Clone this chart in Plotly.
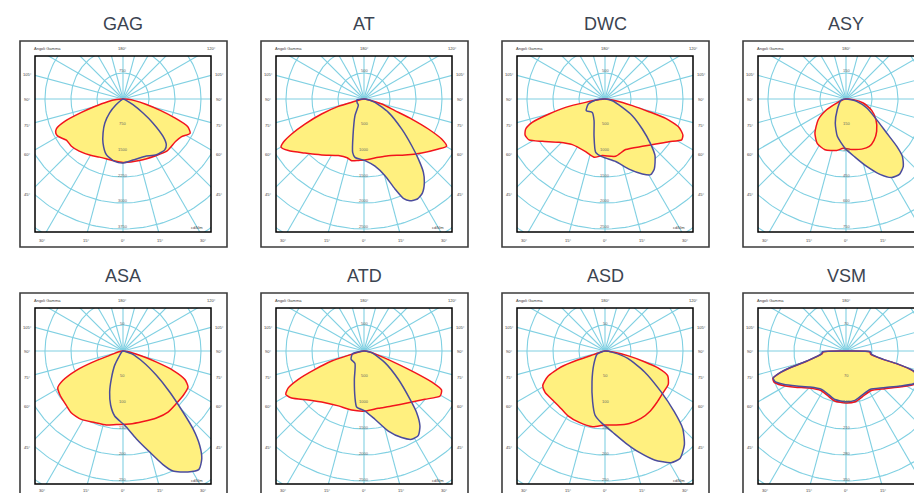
import numpy as np
import plotly.graph_objects as go

W, H = 922, 493          # reference window size
OFF = 8                  # page body margin of the rendered html
W_FIG, H_FIG = W - OFF, H - OFF

panel_names = ["GAG", "AT", "DWC", "ASY", "ASA", "ATD", "ASD", "VSM"]
panel_steps = [750, 500, 500, 150, 50, 500, 50, 70]

# ---- photometric data: gamma angle (deg, 0 = down, + = right) and cd/klm ----
gag_red_gamma = [-90, -85, -80, -75, -72, -69, -66, -63, -60, -54, -47.5, -40, -30, -22, -9, 0, 15, 30, 40, 51, 57, 63, 67, 70, 73, 77, 82, 86, 90]
gag_red_cd = [0, 188, 450, 863, 1275, 1800, 2100, 2175, 2160, 2018, 2018, 1965, 1875, 1808, 1800, 1830, 1838, 1890, 1965, 1950, 2003, 2175, 2025, 1575, 1125, 675, 338, 150, 0]
gag_blue_gamma = [-90, -65, -55, -50, -44, -37, -30.5, -24.4, -16.7, -7.6, 0, 9.3, 20.7, 30.9, 39.4, 43.5, 47, 51.3, 55, 60.5, 66, 75, 90]
gag_blue_cd = [0, 15, 90, 263, 555, 870, 1133, 1395, 1673, 1815, 1845, 1785, 1770, 1875, 1898, 1815, 1575, 1103, 705, 330, 113, 15, 0]

at_red_gamma = [-90, -80, -75.5, -74, -70.5, -67, -64.2, -61.8, -59.8, -55.7, -47.5, -37.1, -24.4, -16, -11.3, -5, 0.9, 13.8, 23.2, 36.2, 46.9, 56.1, 60.2, 62.7, 65, 67.2, 69.4, 74.2, 81, 90]
at_red_cd = [0, 60, 180, 515, 865, 1235, 1545, 1760, 1845, 1760, 1540, 1350, 1195, 1175, 1210, 1185, 1175, 1155, 1185, 1335, 1520, 1725, 1830, 1680, 1365, 995, 635, 355, 85, 0]
at_blue_gamma = [-90, -82, -60, -43, -28.4, -16.7, -12, -8.8, 0.9, 9.3, 15.3, 19, 21.6, 24.3, 28.1, 31.8, 35.9, 39, 42.2, 45.6, 51.5, 61.3, 73, 85, 90]
at_blue_cd = [0, 140, 150, 160, 365, 735, 1050, 1135, 1185, 1310, 1530, 1830, 2055, 2145, 2180, 2130, 1980, 1815, 1555, 1285, 925, 535, 220, 40, 0]

dwc_red_gamma = [-90, -84, -80.2, -78, -75, -72.2, -69.3, -65.8, -61.7, -56, -46.7, -35.6, -20.2, -10.7, -2.7, 10.5, 22.2, 38.3, 48.4, 56.3, 61.9, 65.2, 69, 72.3, 73.9, 76.3, 81, 90]
dwc_red_cd = [0, 100, 380, 775, 1115, 1470, 1630, 1685, 1660, 1455, 1215, 1080, 1080, 1140, 1090, 1120, 1050, 1160, 1305, 1480, 1670, 1650, 1525, 1225, 880, 540, 210, 0]
dwc_blue_gamma = [-90, -84, -73.3, -58, -43.5, -26.9, -16.7, -9.9, -2.6, 9.7, 18.9, 26.5, 31.1, 35.2, 41.4, 45.4, 51.2, 58.6, 64.3, 77, 90]
dwc_blue_cd = [0, 180, 335, 425, 355, 465, 735, 1040, 1115, 1220, 1425, 1610, 1700, 1645, 1455, 1235, 920, 615, 370, 145, 0]

asy_red_gamma = [-90, -80, -66.8, -61.1, -53.2, -42.4, -32.7, -22.5, -10.3, -3.1, 6.4, 17.4, 26.2, 34.1, 43.5, 55.4, 66.2, 77, 85, 90]
asy_red_cd = [0, 15, 59, 128, 200, 266, 306, 317, 302, 284, 293, 303, 305, 288, 257, 210, 162, 102, 42, 0]
asy_blue_gamma = [-90, -75, -39.1, -24, -13.1, -1.2, 8.8, 17.1, 24.3, 30.2, 35.3, 40.4, 44.5, 47, 50.1, 56, 66.5, 77.7, 90]
asy_blue_cd = [0, 30, 80, 152, 221, 284, 339, 407, 477, 524, 533, 510, 464, 401, 306, 213, 131, 63, 0]

asa_red_gamma = [-90, -80, -72, -69.9, -67.5, -63.9, -60.6, -54.7, -46.2, -40, -31.4, -21.6, -12.7, -5.2, 5.2, 15.9, 26.5, 36.4, 45.4, 53.5, 61, 65.3, 68.9, 71.7, 75.4, 82, 90]
asa_red_cd = [0, 8, 27, 62, 97, 129, 144, 148, 151, 155, 154, 148, 146, 142, 141, 141, 144, 146, 144, 144, 143, 131, 103, 68, 33, 8, 0]
asa_blue_gamma = [-90, -60, -37.6, -30.2, -22.9, -18, -12.8, -7.3, 1.3, 8.6, 14.8, 19.4, 22.6, 28.2, 32.7, 36.2, 39.1, 42, 44.5, 48.7, 53.9, 61.2, 72.3, 90]
asa_blue_cd = [0, 2.5, 10.5, 32, 57.5, 83, 107, 126, 143, 170.5, 201, 231.5, 250, 264, 270.5, 256.5, 234, 201, 164.5, 119.5, 79.5, 44, 17, 0]

atd_red_gamma = [-90, -80, -74.5, -72.8, -69.5, -66.7, -64.1, -61, -57, -48.6, -37, -25, -11.8, 1, 14, 26.7, 40.6, 51.6, 59.4, 63.3, 65.4, 67, 68.8, 72.2, 80.5, 90]
atd_red_cd = [0, 60, 315, 650, 1005, 1375, 1615, 1720, 1660, 1425, 1245, 1165, 1160, 1155, 1135, 1185, 1310, 1495, 1700, 1670, 1430, 1065, 710, 355, 115, 0]
atd_blue_gamma = [-90, -75.6, -57.3, -36.1, -18.8, -10.9, -7.5, 1, 9.1, 16.9, 23.5, 28.4, 32.8, 36.7, 40.5, 43.6, 50.5, 61, 77.7, 90]
atd_blue_cd = [0, 230, 295, 295, 575, 915, 1085, 1155, 1330, 1610, 1815, 1930, 1930, 1800, 1560, 1285, 855, 460, 150, 0]

asd_red_gamma = [-90, -80, -72.6, -71.8, -70, -65.9, -60.9, -55.4, -46.9, -39.4, -30, -19.8, -9.3, -0.5, 8.5, 18.6, 28.1, 37.1, 45.4, 53.7, 62.2, 68.5, 72.4, 74.8, 78.4, 81.9, 90]
asd_red_cd = [0, 5, 21.5, 55.5, 90, 121, 137, 140, 138, 138.5, 143.5, 146, 147.5, 142.5, 144, 147, 147, 144.5, 140.5, 137.5, 137.5, 129.5, 106, 78.5, 44.5, 18, 0]
asd_blue_gamma = [-90, -67.4, -39, -23, -13.7, -8.9, -3.2, 5.4, 12.8, 18.7, 24.4, 30.6, 34.9, 40.2, 45.1, 48.8, 54, 62.3, 72.1, 80, 90]
asd_blue_cd = [0, 16.5, 34.5, 64, 100.5, 124.5, 137.5, 157, 182, 206, 230, 249.5, 252, 236.5, 211, 177, 133, 85.5, 46, 15, 0]

vsm_gamma = [-90, -88, -83.7, -75.7, -73.4, -71.8, -69.6, -66.6, -62, -54.6, -45, -32.4, -22.2, -12.8, 0, 10.3, 19.5, 32, 45.5, 57, 64.1, 70, 73.5, 76, 77.4, 82.6, 88, 90]
vsm_red_cd = [0, 62, 64, 106, 155, 186, 210, 211, 196, 168, 141, 126, 130, 138, 140, 139, 131, 126, 145, 177, 205, 212, 187, 138, 100, 67, 64, 0]
vsm_blue_cd = [0, 64, 66, 109, 158, 187, 209, 208, 191, 163, 137, 122.5, 126, 134, 136.5, 135, 127, 122, 141, 173, 202, 210, 189, 141, 103, 69, 66.5, 0]

curves = [
    (gag_red_gamma, gag_red_cd, gag_blue_gamma, gag_blue_cd),
    (at_red_gamma, at_red_cd, at_blue_gamma, at_blue_cd),
    (dwc_red_gamma, dwc_red_cd, dwc_blue_gamma, dwc_blue_cd),
    (asy_red_gamma, asy_red_cd, asy_blue_gamma, asy_blue_cd),
    (asa_red_gamma, asa_red_cd, asa_blue_gamma, asa_blue_cd),
    (atd_red_gamma, atd_red_cd, atd_blue_gamma, atd_blue_cd),
    (asd_red_gamma, asd_red_cd, asd_blue_gamma, asd_blue_cd),
    (vsm_gamma, vsm_red_cd, vsm_gamma, vsm_blue_cd),
]

top_labels = ["Angoli Gamma", "180°", "120°"]
side_labels = ["105°", "90°", "75°", "60°", "45°"]
bottom_labels = ["30°", "15°", "0°", "15°", "30°"]
unit_label = "cd/klm"

# ---- styling / layout constants (pixel positions in the reference window) ----
GRID = "#80d0e2"
FILL = "#fff07f"
RED = "#f2141c"
BLUE = "#4b4c9c"
TXT = "#3a3a3a"
FONT = "Liberation Sans, Arial, sans-serif"
PX_PER_STEP = 26.0
BOX = 176
CX, CY = 88, 43
COL_X = [35, 276, 517, 758]
ROW_Y = [56, 308]


def to_xy(gamma, cd):
    g = np.radians(np.asarray(gamma, dtype=float))
    v = np.asarray(cd, dtype=float)
    return v * np.sin(g), -v * np.cos(g)


def px(x, y):
    return (x - OFF) / W_FIG, 1 - (y - OFF) / H_FIG


fig = go.Figure()
axes = {}
shapes = []
annotations = []


def small(text, X, Y, size=4, color=TXT):
    if X > W - 4 or Y > H - 2:
        return
    ax_, ay_ = px(X, Y)
    annotations.append(dict(text=text, x=ax_, y=ay_, xref="paper", yref="paper", showarrow=False,
                            xanchor="center", yanchor="middle",
                            font=dict(family=FONT, size=size, color=color)))


for i, name in enumerate(panel_names):
    r, c = divmod(i, 4)
    L, T = COL_X[c], ROW_Y[r]
    S = panel_steps[i]
    u = S / PX_PER_STEP
    Rvis = min(L + BOX, W)
    sfx = "" if i == 0 else str(i + 1)
    xa, ya = "x" + sfx, "y" + sfx
    dx0, dy1 = px(L, T)
    dx1, dy0 = px(Rvis, T + BOX)
    axes["xaxis" + sfx] = dict(domain=[dx0, dx1], range=[-CX * u, (Rvis - L - CX) * u],
                               visible=False, fixedrange=True, anchor=ya)
    axes["yaxis" + sfx] = dict(domain=[dy0, dy1], range=[-(BOX - CY) * u, CY * u],
                               visible=False, fixedrange=True, anchor=xa)

    # polar grid: circles every step, radial lines every 15 degrees
    t = np.linspace(0, 2 * np.pi, 241)
    gx, gy = [], []
    for k in range(1, 8):
        gx += list(k * S * np.cos(t)) + [None]
        gy += list(k * S * np.sin(t)) + [None]
    for a in range(0, 360, 15):
        gx += [0, 8 * S * np.sin(np.radians(a)), None]
        gy += [0, -8 * S * np.cos(np.radians(a)), None]
    fig.add_trace(go.Scatter(x=gx, y=gy, mode="lines", line=dict(color=GRID, width=1.1),
                             xaxis=xa, yaxis=ya, hoverinfo="skip", showlegend=False))

    rg, rc, bg, bc = curves[i]
    rx, ry = to_xy(rg, rc)
    bx, by = to_xy(bg, bc)
    for X, Y in ((rx, ry), (bx, by)):
        fig.add_trace(go.Scatter(x=X, y=Y, mode="lines", fill="toself", fillcolor=FILL,
                                 line=dict(width=0, color=FILL), xaxis=xa, yaxis=ya,
                                 hoverinfo="skip", showlegend=False))
    fig.add_trace(go.Scatter(x=rx, y=ry, mode="lines",
                             line=dict(color=RED, width=1.5, shape="spline", smoothing=0.6),
                             xaxis=xa, yaxis=ya, hoverinfo="skip", showlegend=False))
    fig.add_trace(go.Scatter(x=bx, y=by, mode="lines",
                             line=dict(color=BLUE, width=1.5, shape="spline", smoothing=0.6),
                             xaxis=xa, yaxis=ya, hoverinfo="skip", showlegend=False))

    # inner and outer frames
    x0, y1 = px(L, T)
    x1, y0 = px(L + BOX, T + BOX)
    shapes.append(dict(type="rect", xref="paper", yref="paper", x0=x0, x1=x1, y0=y0, y1=y1,
                       line=dict(color="#000000", width=1.5), fillcolor="rgba(0,0,0,0)"))
    ox0, oy1 = px(L - 15, T - 15)
    ox1, oy0 = px(L + BOX + 16, T + BOX + 15)
    shapes.append(dict(type="rect", xref="paper", yref="paper", x0=ox0, x1=ox1, y0=oy0, y1=oy1,
                       line=dict(color="#3c3c3c", width=1.6), fillcolor="rgba(0,0,0,0)"))

    # panel title
    tx, ty = px(L + CX, T - 32)
    annotations.append(dict(text=name, x=tx, y=ty, xref="paper", yref="paper", showarrow=False,
                            xanchor="center", yanchor="middle",
                            font=dict(family=FONT, size=18, color="#3b4451")))

    cyp = T + CY
    small(top_labels[0], L + 12, T - 8)
    small(top_labels[1], L + CX, T - 8)
    small(top_labels[2], L + BOX, T - 8)
    for lab, dy in zip(side_labels, [-24, 0, 26, 55, 96]):
        small(lab, L - 8, cyp + dy)
        small(lab, L + BOX + 8, cyp + dy)
    for lab, dx in zip(bottom_labels, [-81, -37, 0, 37, 80]):
        small(lab, L + CX + dx, min(T + BOX + 8, H - 3))
    small(str(S), L + CX, cyp - 28, color="#666666")
    for k in range(1, 6):
        small(str(k * S), L + CX, cyp + 26 * k - 2, color="#666666")
    small(unit_label, L + BOX - 14, T + BOX - 4)

fig.update_layout(width=W_FIG, height=H_FIG, margin=dict(l=0, r=0, t=0, b=0), autosize=False,
                  paper_bgcolor="white", plot_bgcolor="white", showlegend=False,
                  shapes=shapes, annotations=annotations, **axes)

fig.write_html("out.html")
